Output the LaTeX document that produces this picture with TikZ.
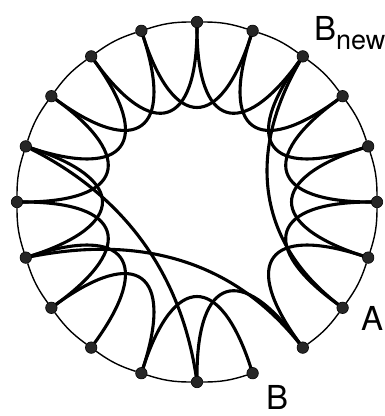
\documentclass[tikz,border=0pt]{standalone}
\usepackage{fontspec}
\setmainfont{TeX Gyre Heros}
\pgfdeclarelayer{bg}
\pgfsetlayers{bg,main}
\begin{document}
\begin{tikzpicture}[x=1pt,y=1pt,
  dot/.style={circle,fill=black!85,draw=black,line width=0.6pt,inner sep=0pt,minimum size=11.5pt},
  rim/.style={line width=1.4pt},
  link/.style={line width=3.1pt,line cap=round},
  lbl/.style={inner sep=0pt,anchor=base west,font=\fontsize{33}{36}\selectfont}]
\useasboundingbox (-197,-214) rectangle (187,202);
\foreach \k in {0,...,19}{
  \node[dot] (p\k) at ({90-18*\k}:180) {};
  \coordinate (c\k) at ({90-18*\k}:74.5);
}
% control points of the three long links
\coordinate (la) at (50.8,51);
\coordinate (lb) at (58.7,-38.7);
\coordinate (lc) at (-40,-30);
\coordinate (ld) at (45,-70);
\coordinate (le) at (-16.5,-71);
\coordinate (lf) at (-73,6);
\begin{pgfonlayer}{bg}
\foreach \a/\b in {0/1,1/2,2/3,3/4,4/5,5/6,6/7,7/8,9/10,10/11,11/12,12/13,13/14,14/15,15/16,16/17,17/18,18/19,19/0}
  \draw[rim] (p\a) to[bend left=9] (p\b);
\foreach \a/\b in {0/2,1/3,2/4,3/5,4/6,5/7,6/8,8/10,9/11,11/13,12/14,13/15,14/16,15/17,16/18,17/19,18/0,19/1}
  \draw[link] (p\a) .. controls (c\a) and (c\b) .. (p\b);
\draw[link] (p7) .. controls (lb) and (la) .. (p2);
\draw[link] (p14) .. controls (lc) and (ld) .. (p8);
\draw[link] (p10) .. controls (le) and (lf) .. (p16);
\end{pgfonlayer}
\node[lbl] (bnew) at (117,162) {B\raisebox{-9pt}{\fontsize{27}{30}\selectfont new}};
\node[lbl] (la) at (164,-128) {A};
\node[lbl] (lbb) at (69,-207) {B};
\end{tikzpicture}
\end{document}
